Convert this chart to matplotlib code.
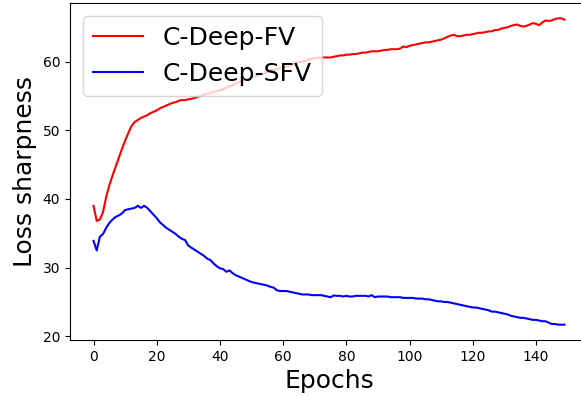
import matplotlib
matplotlib.use("Agg")
from matplotlib import pyplot as plt
import numpy as np

# loss sharpness recorded once per epoch
epochs = np.arange(150)

deep_fv = [
    39.0, 36.8, 37.0, 38.1, 40.3, 42.0, 43.4, 44.7, 46.0, 47.3,
    48.5, 49.6, 50.6, 51.2, 51.5, 51.8, 52.0, 52.2, 52.5, 52.7,
    52.9, 53.2, 53.4, 53.6, 53.8, 54.0, 54.1, 54.3, 54.4, 54.4,
    54.5, 54.6, 54.7, 54.9, 55.0, 55.2, 55.3, 55.4, 55.6, 55.7,
    55.8, 56.0, 56.2, 56.4, 56.6, 56.8, 57.0, 57.2, 57.4, 57.5,
    57.7, 57.8, 58.0, 58.2, 58.3, 58.5, 58.7, 58.8, 58.9, 59.1,
    59.2, 59.3, 59.4, 59.6, 59.8, 59.9, 60.0, 60.1, 60.3, 60.4,
    60.5, 60.6, 60.6, 60.6, 60.6, 60.6, 60.7, 60.8, 60.9, 60.9,
    61.0, 61.0, 61.1, 61.1, 61.2, 61.3, 61.3, 61.4, 61.5, 61.5,
    61.5, 61.6, 61.7, 61.7, 61.8, 61.8, 61.8, 61.9, 62.2, 62.1,
    62.3, 62.4, 62.5, 62.6, 62.7, 62.8, 62.8, 62.9, 63.0, 63.1,
    63.2, 63.4, 63.6, 63.8, 63.9, 63.7, 63.7, 63.8, 63.9, 63.9,
    64.0, 64.1, 64.2, 64.2, 64.3, 64.4, 64.4, 64.6, 64.6, 64.8,
    64.9, 65.0, 65.2, 65.3, 65.4, 65.2, 65.1, 65.2, 65.4, 65.6,
    65.5, 65.3, 65.7, 66.0, 65.9, 66.0, 66.2, 66.3, 66.3, 66.1,
]

deep_sfv = [
    33.9, 32.5, 34.5, 34.9, 35.8, 36.5, 37.0, 37.4, 37.6, 37.9,
    38.4, 38.5, 38.6, 38.7, 39.0, 38.7, 39.0, 38.7, 38.2, 37.7,
    37.2, 36.6, 36.2, 35.8, 35.5, 35.2, 34.9, 34.5, 34.2, 34.0,
    33.2, 32.9, 32.6, 32.3, 32.0, 31.7, 31.3, 31.1, 30.6, 30.2,
    29.9, 29.8, 29.4, 29.6, 29.2, 28.9, 28.7, 28.5, 28.3, 28.1,
    27.9, 27.8, 27.7, 27.6, 27.5, 27.4, 27.2, 27.1, 26.7, 26.6,
    26.6, 26.6, 26.5, 26.4, 26.3, 26.2, 26.1, 26.1, 26.1, 26.0,
    26.0, 26.0, 26.0, 25.9, 25.8, 25.7, 25.95, 25.9, 25.9, 25.8,
    25.9, 25.8, 25.8, 25.9, 25.9, 25.9, 25.9, 25.8, 26.0, 25.7,
    25.8, 25.8, 25.8, 25.8, 25.7, 25.7, 25.7, 25.7, 25.6, 25.6,
    25.6, 25.6, 25.5, 25.5, 25.5, 25.4, 25.4, 25.3, 25.2, 25.1,
    25.1, 25.0, 25.0, 24.9, 24.8, 24.7, 24.6, 24.5, 24.4, 24.3,
    24.2, 24.2, 24.1, 24.0, 23.9, 23.8, 23.6, 23.6, 23.5, 23.4,
    23.3, 23.2, 23.0, 22.9, 22.8, 22.7, 22.7, 22.6, 22.5, 22.4,
    22.4, 22.3, 22.2, 22.2, 22.0, 21.8, 21.8, 21.7, 21.7, 21.7,
]

fig = plt.figure(figsize=(5.81, 3.96), dpi=100)
# axes run a little past the right edge of the canvas
ax = fig.add_axes([70 / 581, 56 / 396, 518 / 581, 337 / 396])
ax.spines["right"].set_visible(False)

ax.plot(epochs, deep_fv, color="red", linewidth=1.5, label="C-Deep-FV")
ax.plot(epochs, deep_sfv, color="blue", linewidth=1.5, label="C-Deep-SFV")

ax.set_xticks(np.arange(0, 141, 20))
ax.set_yticks(np.arange(20, 61, 10))
ax.tick_params(labelsize=10)
ax.set_xlabel("Epochs", fontsize=18)
ax.set_ylabel("Loss sharpness", fontsize=18)
ax.legend(loc="upper left", fontsize=18)

fig.savefig("out.png", dpi=100)
